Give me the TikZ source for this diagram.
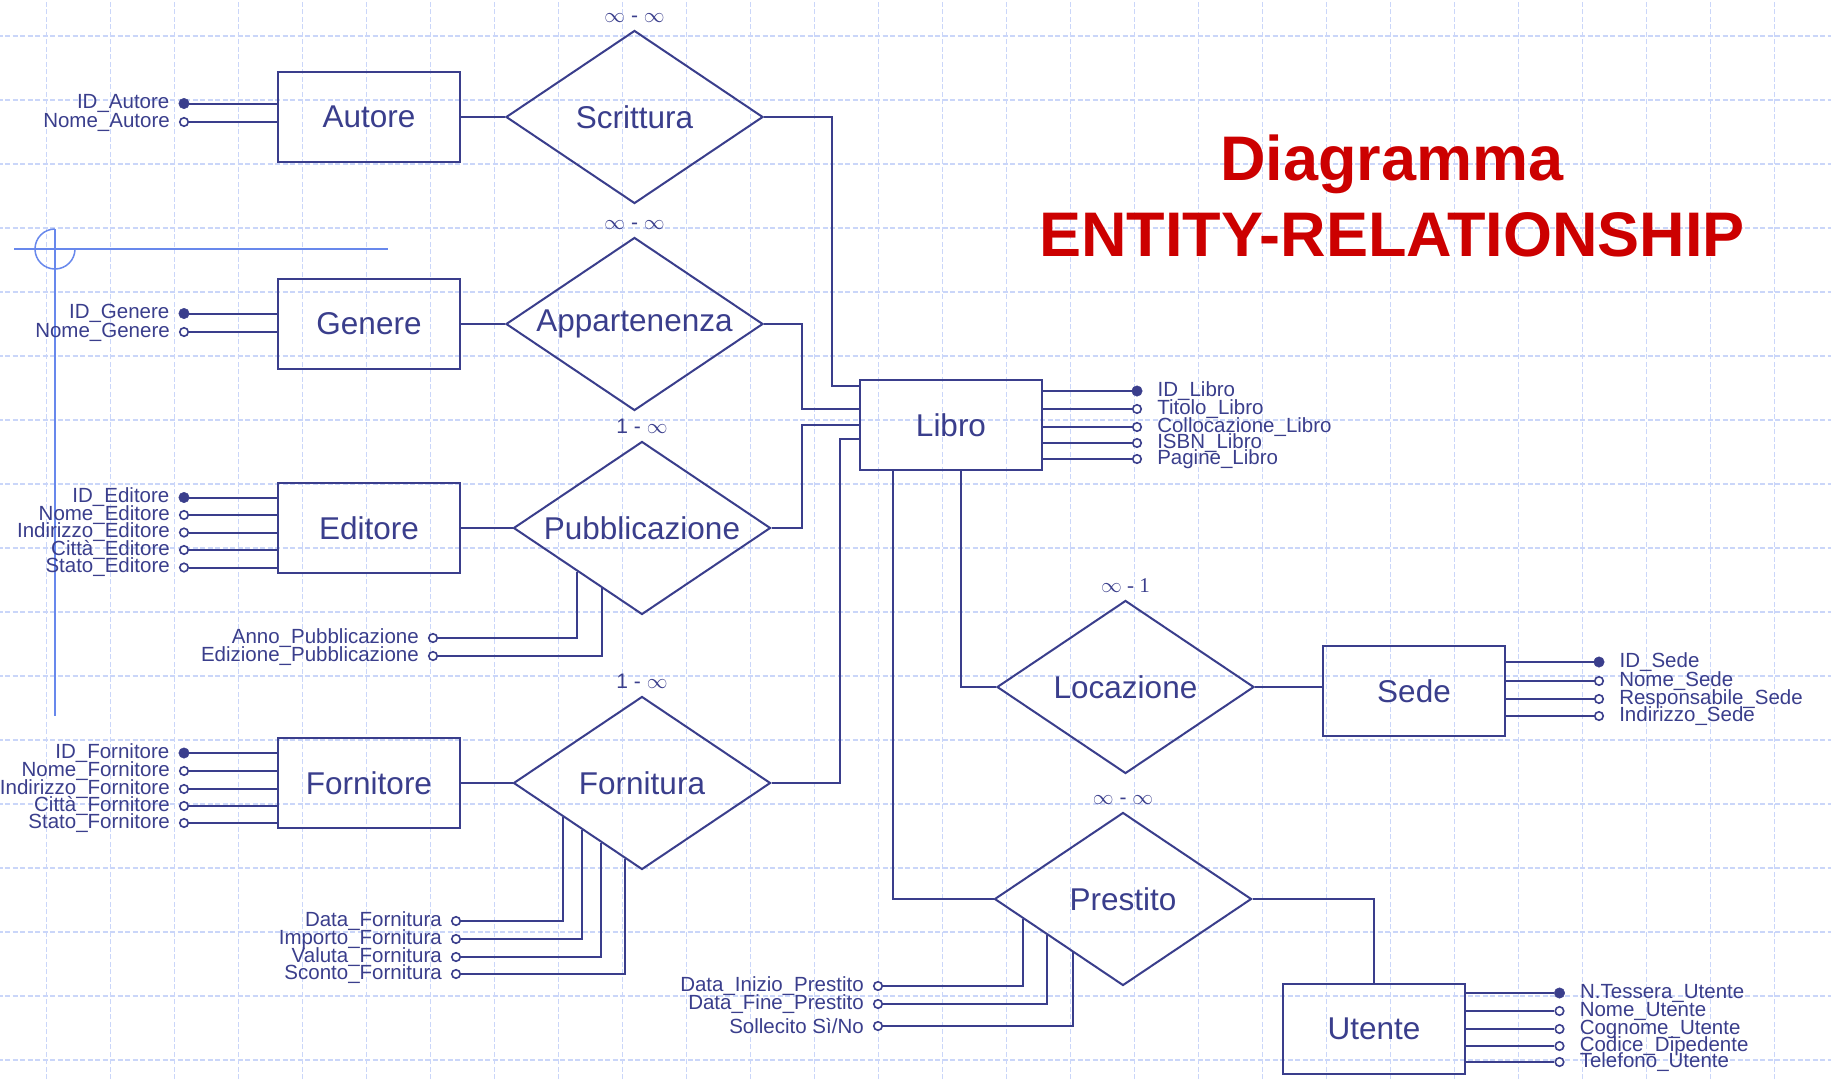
\documentclass[tikz,border=0pt]{standalone}
\usepackage{fontspec}
\setmainfont{Liberation Sans}
\newfontfamily\cardserif{Liberation Serif}
\usetikzlibrary{shapes.geometric,calc}
\definecolor{erblu}{RGB}{58,62,140}
\definecolor{errosso}{RGB}{204,0,0}
\definecolor{griglia}{RGB}{202,214,249}
\definecolor{mirino}{RGB}{104,136,236}

\begin{document}
\begin{tikzpicture}[x=1pt,y=1pt,
    entita/.style={rectangle, draw=erblu, line width=2.5pt, minimum width=182pt, minimum height=90pt, inner sep=0pt, text=erblu, font=\fontsize{31.5}{36}\selectfont},
    relazione/.style={diamond, draw=erblu, line width=2pt, minimum width=257pt, minimum height=173pt, shape aspect=1.49, inner sep=0pt, text=erblu, font=\fontsize{31.5}{36}\selectfont},
    chiave/.style={circle, draw=erblu, fill=erblu, inner sep=0pt, minimum size=10.5pt},
    attributo/.style={circle, draw=erblu, fill=white, line width=1.6pt, inner sep=0pt, minimum size=8.5pt},
    nomeattr/.style={text=erblu, inner sep=0pt, font=\fontsize{20.5}{20.5}\selectfont},
    attrsx/.style={label={[nomeattr, xshift=-9pt]left:#1}},
    attrdx/.style={label={[nomeattr, xshift=15pt]right:#1}},
    card/.style={text=erblu, inner sep=0pt, yshift=7pt, font=\fontsize{21}{21}\selectfont},
    linea/.style={draw=erblu, line width=2pt},
    titolo/.style={text=errosso, inner sep=0pt, font=\fontsize{63}{63}\selectfont\bfseries},
    gridline/.style={draw=griglia, line width=1.3pt, dash pattern=on 5pt off 2.5pt},
    mirinoline/.style={draw=mirino, line width=1.5pt}]
    \useasboundingbox (0,0) rectangle (1831,-1079);
    \fill [white] (0,0) rectangle (1831,-1079);
    \begin{scope}[shift={(46.7,-36)}]
    \draw [gridline, step=64] (-64,-1088) grid (1856,64);
    \end{scope}
    \draw [mirinoline] (14,-249) -- (388,-249);
    \draw [mirinoline] (55,-229) -- (55,-716);
    \draw [mirinoline] (55,-229) arc [start angle=90, end angle=360, radius=20];

    \node [titolo, anchor=base] (titolo1) at (1392,-180) {Diagramma};
    \node [titolo, anchor=base] (titolo2) at (1392,-256) {ENTITY-RELATIONSHIP};

    \node [entita] (autore) at (369,-117) {Autore};
    \node [entita] (genere) at (369,-324) {Genere};
    \node [entita] (editore) at (369,-528) {Editore};
    \node [entita] (fornitore) at (369,-783) {Fornitore};
    \node [entita] (libro) at (951,-425) {Libro};
    \node [entita] (sede) at (1414,-691) {Sede};
    \node [entita] (utente) at (1374,-1029) {Utente};

    \node [relazione, label={[card]above:$\infty$ - $\infty$}] (scrittura) at (634.5,-117) {Scrittura};
    \node [relazione, label={[card]above:$\infty$ - $\infty$}] (appartenenza) at (634.5,-324) {Appartenenza};
    \node [relazione, label={[card]above:1 - $\infty$}] (pubblicazione) at (642,-528) {Pubblicazione};
    \node [relazione, label={[card]above:1 - $\infty$}] (fornitura) at (642,-783) {Fornitura};
    \node [relazione, label={[card, font=\cardserif\fontsize{21}{21}\selectfont]above:$\infty$ - 1}] (locazione) at (1125.5,-687) {Locazione};
    \node [relazione, label={[card]above:$\infty$ - $\infty$}] (prestito) at (1123,-899) {Prestito};

    \node [chiave, attrsx=ID\_Autore] (idautore) at (184,-103.5) {};
    \node [attributo, attrsx=Nome\_Autore] (nomeautore) at (184,-122) {};
    \node [chiave, attrsx=ID\_Genere] (idgenere) at (184,-313.5) {};
    \node [attributo, attrsx=Nome\_Genere] (nomegenere) at (184,-332) {};
    \node [chiave, attrsx=ID\_Editore] (ideditore) at (184,-497.5) {};
    \node [attributo, attrsx=Nome\_Editore] (nomeeditore) at (184,-515) {};
    \node [attributo, attrsx=Indirizzo\_Editore] (indeditore) at (184,-532.5) {};
    \node [attributo, attrsx=Città\_Editore] (cittaeditore) at (184,-550) {};
    \node [attributo, attrsx=Stato\_Editore] (statoeditore) at (184,-567.5) {};
    \node [chiave, attrsx=ID\_Fornitore] (idfornitore) at (184,-753) {};
    \node [attributo, attrsx=Nome\_Fornitore] (nomefornitore) at (184,-771) {};
    \node [attributo, attrsx=Indirizzo\_Fornitore] (indfornitore) at (184,-789) {};
    \node [attributo, attrsx=Città\_Fornitore] (cittafornitore) at (184,-806) {};
    \node [attributo, attrsx=Stato\_Fornitore] (statofornitore) at (184,-823) {};

    \node [attributo, attrsx=Anno\_Pubblicazione] (annopubbl) at (433,-638) {};
    \node [attributo, attrsx=Edizione\_Pubblicazione] (edizpubbl) at (433,-656) {};
    \node [attributo, attrsx=Data\_Fornitura] (datafornitura) at (456,-921) {};
    \node [attributo, attrsx=Importo\_Fornitura] (importofornitura) at (456,-939) {};
    \node [attributo, attrsx=Valuta\_Fornitura] (valutafornitura) at (456,-957) {};
    \node [attributo, attrsx=Sconto\_Fornitura] (scontofornitura) at (456,-974) {};
    \node [attributo, attrsx=Data\_Inizio\_Prestito] (datainizio) at (878,-986) {};
    \node [attributo, attrsx=Data\_Fine\_Prestito] (datafine) at (878,-1004) {};
    \node [attributo, attrsx=Sollecito Sì/No] (sollecito) at (878,-1026) {};

    \node [chiave, attrdx=ID\_Libro] (idlibro) at (1137,-391) {};
    \node [attributo, attrdx=Titolo\_Libro] (titololibro) at (1137,-409) {};
    \node [attributo, attrdx=Collocazione\_Libro] (colllibro) at (1137,-427) {};
    \node [attributo, attrdx=ISBN\_Libro] (isbnlibro) at (1137,-443) {};
    \node [attributo, attrdx=Pagine\_Libro] (paginelibro) at (1137,-459) {};
    \node [chiave, attrdx=ID\_Sede] (idsede) at (1599,-662) {};
    \node [attributo, attrdx=Nome\_Sede] (nomesede) at (1599,-681) {};
    \node [attributo, attrdx=Responsabile\_Sede] (respsede) at (1599,-699) {};
    \node [attributo, attrdx=Indirizzo\_Sede] (indsede) at (1599,-716) {};
    \node [chiave, attrdx=N.Tessera\_Utente] (tessera) at (1559.5,-993) {};
    \node [attributo, attrdx=Nome\_Utente] (nomeutente) at (1559.5,-1011) {};
    \node [attributo, attrdx=Cognome\_Utente] (cognomeutente) at (1559.5,-1029) {};
    \node [attributo, attrdx=Codice\_Dipedente] (codiceutente) at (1559.5,-1046) {};
    \node [attributo, attrdx=Telefono\_Utente] (telutente) at (1559.5,-1062) {};

    \draw [linea] (autore.east) -- (scrittura.west);
    \draw [linea] (genere.east) -- (appartenenza.west);
    \draw [linea] (editore.east) -- (pubblicazione.west);
    \draw [linea] (fornitore.east) -- (fornitura.west);
    \draw [linea] (scrittura.east) -- ++(68,0) |- ($(libro.north west)+(0,-7)$);
    \draw [linea] (appartenenza.east) -- ++(38,0) |- ($(libro.north west)+(0,-30)$);
    \draw [linea] (pubblicazione.east) -- ++(30,0) |- (libro.west);
    \draw [linea] (fornitura.east) -- ++(68,0) |- ($(libro.north west)+(0,-60)$);
    \draw [linea] ($(libro.south west)+(102,0)$) |- (locazione.west);
    \draw [linea] ($(libro.south west)+(34,0)$) |- (prestito.west);
    \draw [linea] (locazione.east) -- (locazione.east -| sede.west);
    \draw [linea] (prestito.east) -| (utente.north);

    \draw [linea] (idautore) -- (idautore -| autore.west);
    \draw [linea] (nomeautore) -- (nomeautore -| autore.west);
    \draw [linea] (idgenere) -- (idgenere -| genere.west);
    \draw [linea] (nomegenere) -- (nomegenere -| genere.west);
    \draw [linea] (ideditore) -- (ideditore -| editore.west);
    \draw [linea] (nomeeditore) -- (nomeeditore -| editore.west);
    \draw [linea] (indeditore) -- (indeditore -| editore.west);
    \draw [linea] (cittaeditore) -- (cittaeditore -| editore.west);
    \draw [linea] (statoeditore) -- (statoeditore -| editore.west);
    \draw [linea] (idfornitore) -- (idfornitore -| fornitore.west);
    \draw [linea] (nomefornitore) -- (nomefornitore -| fornitore.west);
    \draw [linea] (indfornitore) -- (indfornitore -| fornitore.west);
    \draw [linea] (cittafornitore) -- (cittafornitore -| fornitore.west);
    \draw [linea] (statofornitore) -- (statofornitore -| fornitore.west);
    \draw [linea] (idlibro) -- (idlibro -| libro.east);
    \draw [linea] (titololibro) -- (titololibro -| libro.east);
    \draw [linea] (colllibro) -- (colllibro -| libro.east);
    \draw [linea] (isbnlibro) -- (isbnlibro -| libro.east);
    \draw [linea] (paginelibro) -- (paginelibro -| libro.east);
    \draw [linea] (idsede) -- (idsede -| sede.east);
    \draw [linea] (nomesede) -- (nomesede -| sede.east);
    \draw [linea] (respsede) -- (respsede -| sede.east);
    \draw [linea] (indsede) -- (indsede -| sede.east);
    \draw [linea] (tessera) -- (tessera -| utente.east);
    \draw [linea] (nomeutente) -- (nomeutente -| utente.east);
    \draw [linea] (cognomeutente) -- (cognomeutente -| utente.east);
    \draw [linea] (codiceutente) -- (codiceutente -| utente.east);
    \draw [linea] (telutente) -- (telutente -| utente.east);

    \draw [linea] ($(pubblicazione.west)!0.5!(pubblicazione.south)$) |- (annopubbl);
    \draw [linea] ($(pubblicazione.west)!0.69!(pubblicazione.south)$) |- (edizpubbl);
    \draw [linea] ($(fornitura.west)!0.39!(fornitura.south)$) |- (datafornitura);
    \draw [linea] ($(fornitura.west)!0.54!(fornitura.south)$) |- (importofornitura);
    \draw [linea] ($(fornitura.west)!0.68!(fornitura.south)$) |- (valutafornitura);
    \draw [linea] ($(fornitura.west)!0.87!(fornitura.south)$) |- (scontofornitura);
    \draw [linea] ($(prestito.west)!0.225!(prestito.south)$) |- (datainizio);
    \draw [linea] ($(prestito.west)!0.41!(prestito.south)$) |- (datafine);
    \draw [linea] ($(prestito.west)!0.61!(prestito.south)$) |- (sollecito);
\end{tikzpicture}
\end{document}
